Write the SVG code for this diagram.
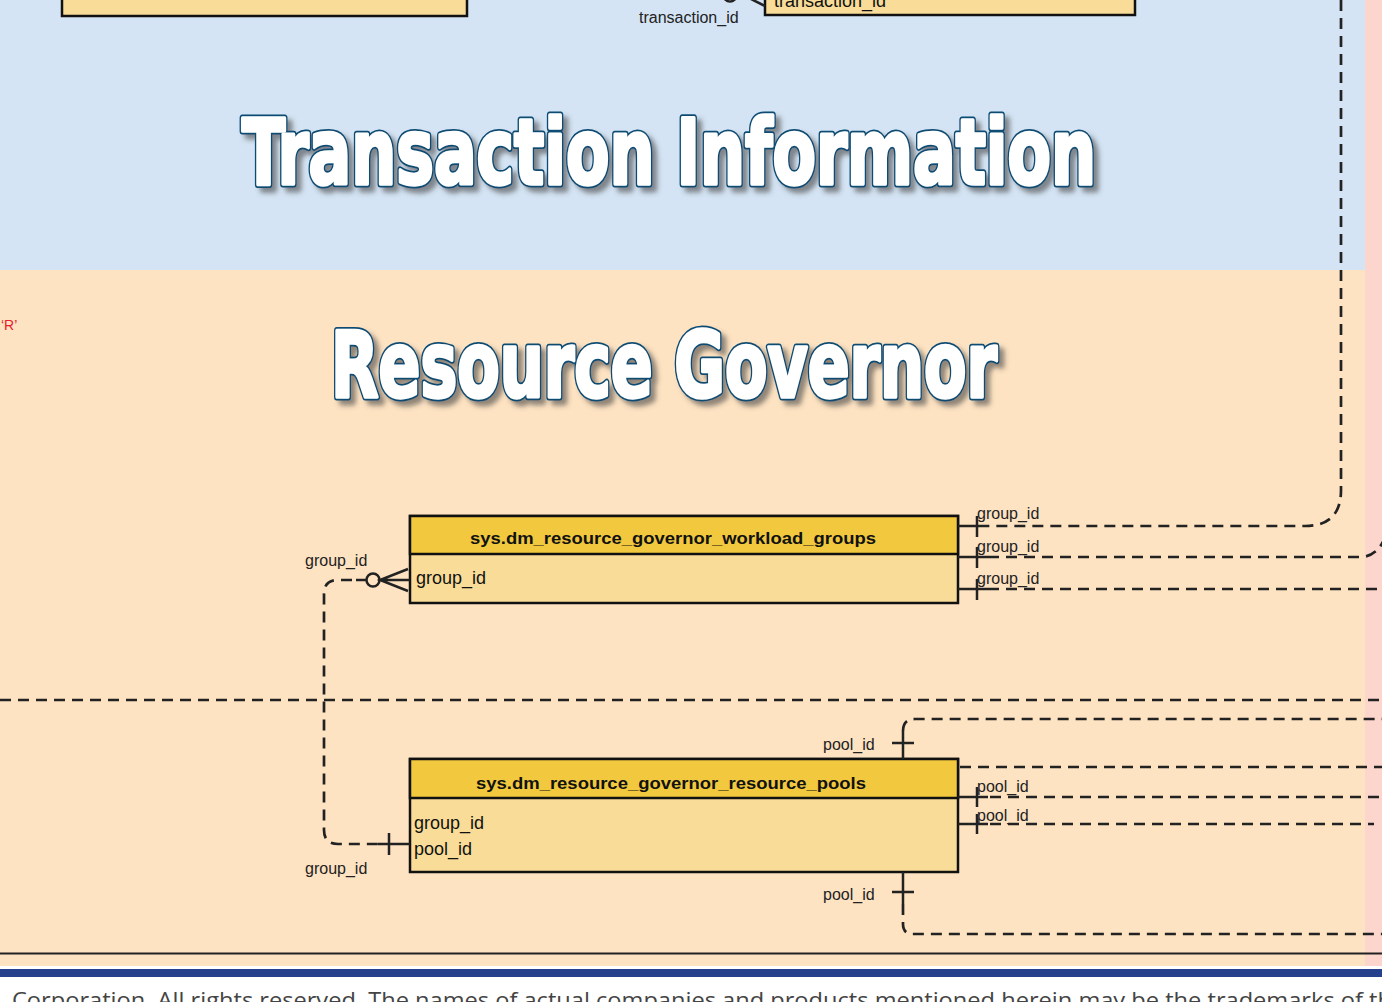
<svg xmlns="http://www.w3.org/2000/svg" width="1382" height="1002" viewBox="0 0 1382 1002">
<style>
.tbl-h{fill:#f2c93e;stroke:#111;stroke-width:2.5}
.tbl-b{fill:#f8dc98;stroke:#111;stroke-width:2.5}
.hdr{font-family:"Liberation Sans",Arial,sans-serif;font-weight:bold;font-size:17px;fill:#111;text-anchor:middle}
.fld{font-family:"Liberation Sans",Arial,sans-serif;font-size:18px;fill:#111}
.lbl{font-family:"Liberation Sans",Arial,sans-serif;font-size:16px;fill:#222}
.dash{fill:none;stroke:#222;stroke-width:2.7;stroke-dasharray:11 7}
.solid{fill:none;stroke:#222;stroke-width:2.5}
.title{font-family:"DejaVu Sans Condensed","DejaVu Sans",sans-serif;font-weight:bold;font-size:91px;fill:#fff;text-anchor:start;stroke-linejoin:round}
.title-out{stroke:#0d4c73;stroke-width:7;filter:url(#shadow)}
.title-in{stroke:#fff;stroke-width:3.5}
</style>
<defs>
<filter id="shadow" x="-5%" y="-20%" width="115%" height="150%">
<feDropShadow dx="5" dy="5" stdDeviation="2.5" flood-color="#444" flood-opacity="0.6"/>
</filter>
</defs>
<g id="background">
<rect x="0" y="0" width="1382" height="1002" fill="#ffffff"/>
<rect x="0" y="0" width="1365" height="270" fill="#d4e4f4"/>
<rect x="0" y="270" width="1365" height="696" fill="#fee3c2"/>
<rect x="1365" y="0" width="17" height="966" fill="#fcd6cc"/>
<line x1="0" y1="953.5" x2="1382" y2="953.5" stroke="#222" stroke-width="2"/>
<rect x="0" y="969" width="1382" height="8" fill="#25418e"/>
</g>
<g id="titles">
<text class="title title-out" x="242" y="184" textLength="854" lengthAdjust="spacingAndGlyphs">Transaction Information</text>
<text class="title title-in" x="242" y="184" textLength="854" lengthAdjust="spacingAndGlyphs">Transaction Information</text>
<text class="title title-out" x="331" y="397" textLength="666" lengthAdjust="spacingAndGlyphs">Resource Governor</text>
<text class="title title-in" x="331" y="397" textLength="666" lengthAdjust="spacingAndGlyphs">Resource Governor</text>
</g>
<g id="node-top-left-table">
<rect class="tbl-b" x="62" y="-20" width="405" height="36"/>
</g>
<g id="node-top-right-table">
<rect class="tbl-b" x="765" y="-20" width="370" height="35"/>
<text class="fld" x="774" y="7">transaction_id</text>
</g>
<g id="node-workload-groups">
<rect class="tbl-b" x="410" y="516" width="548" height="87"/>
<rect class="tbl-h" x="410" y="516" width="548" height="38"/>
<text class="hdr" x="673" y="544" textLength="406" lengthAdjust="spacingAndGlyphs">sys.dm_resource_governor_workload_groups</text>
<text class="fld" x="416" y="584">group_id</text>
</g>
<g id="node-resource-pools">
<rect class="tbl-b" x="410" y="759" width="548" height="113"/>
<rect class="tbl-h" x="410" y="759" width="548" height="39"/>
<text class="hdr" x="671" y="789" textLength="390" lengthAdjust="spacingAndGlyphs">sys.dm_resource_governor_resource_pools</text>
<text class="fld" x="414" y="829">group_id</text>
<text class="fld" x="414" y="855">pool_id</text>
</g>
<g id="connectors">
<circle cx="730" cy="-5" r="6.5" fill="none" stroke="#222" stroke-width="2.5"/>
<path class="solid" d="M745 -4 L765 6 M745 -4 L765 -4"/>
<text class="lbl" x="639" y="23">transaction_id</text>
<path class="dash" d="M1341 0 V490 Q1341 526 1305 526 H988"/>
<path class="solid" d="M958 526 H988 M977 516 V537"/>
<text class="lbl" x="977" y="519">group_id</text>
<path class="dash" d="M988 557 H1360 Q1378 557 1386 535"/>
<path class="solid" d="M958 557 H988 M977 547 V568"/>
<text class="lbl" x="977" y="552">group_id</text>
<path class="dash" d="M988 589 H1382"/>
<path class="solid" d="M958 589 H988 M977 579 V600"/>
<text class="lbl" x="977" y="584">group_id</text>
<circle cx="373" cy="580" r="6.5" fill="none" stroke="#222" stroke-width="2.5"/>
<path class="solid" d="M408 569 L380 580 L408 591 M380 580 H410 M366 580 H356"/>
<path class="dash" d="M352 580 H338 Q324 580 324 594 V830 Q324 844 338 844 H378"/>
<path class="solid" d="M378 844 H410 M389 833 V855"/>
<text class="lbl" x="305" y="566">group_id</text>
<text class="lbl" x="305" y="874">group_id</text>
<path class="dash" d="M0 700 H1382"/>
<path class="solid" d="M903 759 V731 M892 743 H914"/>
<path class="dash" d="M903 731 Q903 719 915 719 H1382"/>
<text class="lbl" x="823" y="750">pool_id</text>
<path class="dash" d="M960 767 H1382"/>
<path class="solid" d="M958 797 H988 M977 787 V807"/>
<path class="dash" d="M990 797 H1382"/>
<text class="lbl" x="977" y="792">pool_id</text>
<path class="solid" d="M958 824 H988 M977 814 V834"/>
<path class="dash" d="M990 824 H1374"/>
<text class="lbl" x="977" y="821">pool_id</text>
<path class="solid" d="M903 872 V904 M892 892 H914"/>
<path class="dash" d="M903 904 V924 Q903 934 913 934 H1382"/>
<text class="lbl" x="823" y="900">pool_id</text>
</g>
<g id="notes">
<text x="1" y="330" font-family="Liberation Sans,Arial,sans-serif" font-size="14" fill="#e8202a">‘R’</text>
<text x="12" y="1008" font-family="Open Sans,sans-serif" font-size="21" fill="#444" textLength="1380" lengthAdjust="spacingAndGlyphs">Corporation. All rights reserved. The names of actual companies and products mentioned herein may be the trademarks of th</text>
</g>
</svg>
